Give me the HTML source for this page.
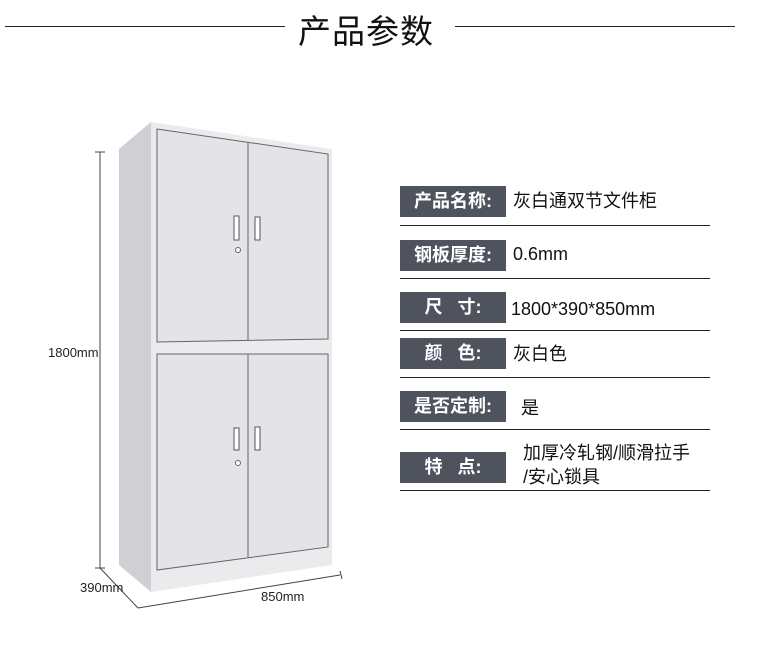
<!DOCTYPE html>
<html><head><meta charset="utf-8"><style>
body{margin:0;width:759px;height:656px;background:#fff;position:relative;overflow:hidden;font-family:"Liberation Sans","Noto Sans CJK SC",sans-serif;color:#111}
.t{position:absolute;left:298px;top:5px;font-size:33px;letter-spacing:1px}
.hl{position:absolute;top:26px;height:1px;background:#222}
.lb{position:absolute;left:400px;width:106px;height:31px;background:#4e535e;color:#fff;font-size:18px;line-height:31px;text-align:center;font-weight:bold}
.v{position:absolute;font-size:18px;line-height:22px}
.ul{position:absolute;left:400px;width:310px;height:1px;background:#222}
.d{position:absolute;font-size:13px;color:#222}
</style></head><body>
<div class="hl" style="left:5px;width:280px"></div>
<div class="t">产品参数</div>
<div class="hl" style="left:455px;width:280px"></div>

<svg style="position:absolute;left:0;top:0" width="759" height="656">
<polygon points="119,149 151,122 151,592 119,565" fill="#cfcfd4"/>
<polygon points="151,122 332,149 332,565 151,592" fill="#ebebee"/>
<polygon points="157,129 328,154 328,339 157,342" fill="#e4e4e8" stroke="#666" stroke-width="1"/>
<line x1="248" y1="142" x2="248" y2="341" stroke="#666"/>
<polygon points="157,354 328,354 328,547 157,570" fill="#e4e4e8" stroke="#666" stroke-width="1"/>
<line x1="248" y1="354" x2="248" y2="557" stroke="#666"/>
<rect x="234" y="216" width="5" height="24" fill="#fff" stroke="#555"/>
<rect x="255" y="217" width="5" height="23" fill="#fff" stroke="#555"/>
<circle cx="238" cy="250" r="2.5" fill="#fff" stroke="#666"/>
<rect x="234" y="428" width="5" height="22" fill="#fff" stroke="#555"/>
<rect x="255" y="427" width="5" height="23" fill="#fff" stroke="#555"/>
<circle cx="238" cy="463" r="2.5" fill="#fff" stroke="#666"/>
<line x1="100" y1="152" x2="100" y2="568" stroke="#444"/>
<line x1="95" y1="152" x2="105" y2="152" stroke="#444"/>
<line x1="95" y1="568" x2="105" y2="568" stroke="#444"/>
<line x1="100" y1="568" x2="138" y2="608" stroke="#444"/>
<line x1="138" y1="608" x2="340" y2="575" stroke="#444"/>
<line x1="340" y1="571" x2="342" y2="579" stroke="#444"/>
</svg>
<div class="d" style="left:48px;top:345px">1800mm</div>
<div class="d" style="left:80px;top:580px">390mm</div>
<div class="d" style="left:261px;top:589px">850mm</div>

<div class="lb" style="top:186px">产品名称:</div><div class="v" style="left:513px;top:190px">灰白通双节文件柜</div><div class="ul" style="top:225px"></div>
<div class="lb" style="top:240px">钢板厚度:</div><div class="v" style="left:513px;top:243px">0.6mm</div><div class="ul" style="top:278px"></div>
<div class="lb" style="top:292px">尺&nbsp;&nbsp;&nbsp;寸:</div><div class="v" style="left:511px;top:298px">1800*390*850mm</div><div class="ul" style="top:330px"></div>
<div class="lb" style="top:338px">颜&nbsp;&nbsp;&nbsp;色:</div><div class="v" style="left:513px;top:343px">灰白色</div><div class="ul" style="top:377px"></div>
<div class="lb" style="top:391px">是否定制:</div><div class="v" style="left:521px;top:397px">是</div><div class="ul" style="top:429px"></div>
<div class="lb" style="top:452px">特&nbsp;&nbsp;&nbsp;点:</div><div class="v" style="left:523px;top:441px;line-height:24px">加厚冷轧钢/顺滑拉手<br>/安心锁具</div><div class="ul" style="top:490px"></div>
</body></html>
